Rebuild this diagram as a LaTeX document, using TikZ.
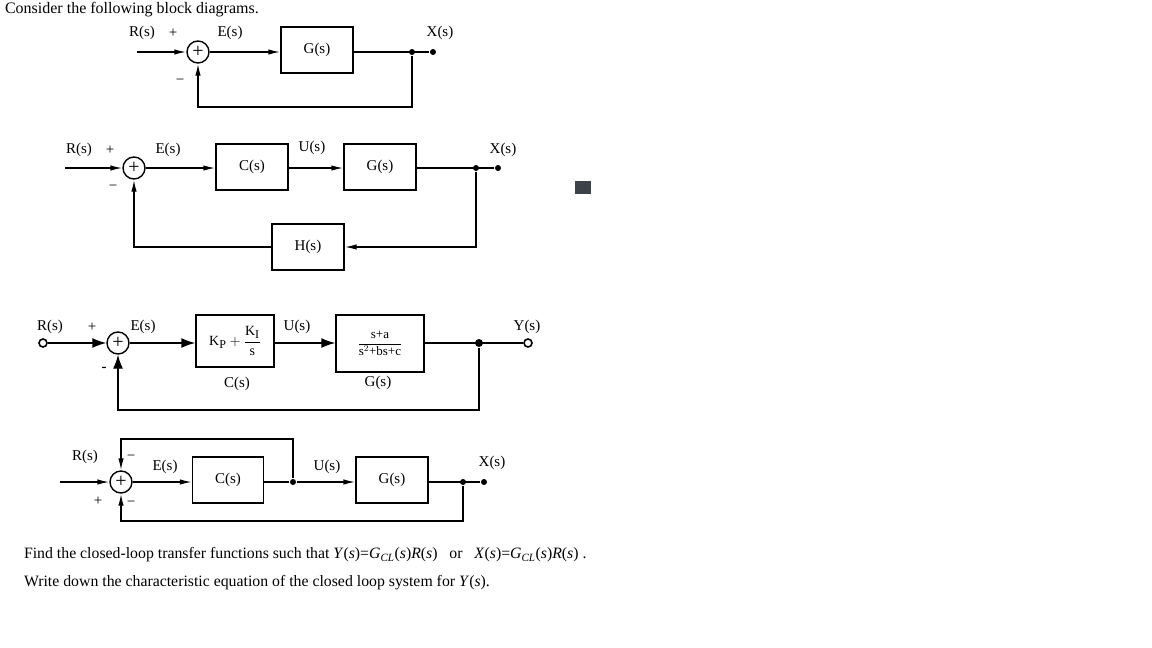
\documentclass[tikz,border=0pt]{standalone}
\usepackage{amsmath}
\usepackage{fontspec}
\setmainfont{Liberation Serif}
\usetikzlibrary{arrows.meta,positioning}
\definecolor{boxgray}{HTML}{3C4248}

\begin{document}
\begin{tikzpicture}[x=1pt,y=-1pt,line width=1.4pt,
        blk/.style={draw,minimum width=72pt,minimum height=46pt,font=\fontsize{15}{17}\selectfont},
        sumc/.style={draw,circle,inner sep=0pt,minimum size=22pt,font=\fontsize{20}{20}\selectfont},
        lbl/.style={font=\fontsize{15}{17}\selectfont},
        dot/.style={circle,fill,inner sep=0pt,minimum size=6pt},
        term/.style={circle,draw,fill=white,inner sep=0pt,minimum size=8pt,line width=1.6pt},
        sig/.style={-{Latex[length=12pt,width=5.5pt]}},
        bigsig/.style={-{Latex[length=14pt,width=10pt]}}]
    \useasboundingbox (0,0) rectangle (1152,648);
    \node[anchor=west,font=\fontsize{16}{18}\selectfont] (title) at (1,10) {Consider the following block diagrams.};

    % first loop
    \coordinate (r1) at (137,52);
    \node[sumc] (s1) at (198,52) {+};
    \node[blk] (g1) at (317,50) {G(s)};
    \node[dot] (j1) at (412,52) {};
    \node[dot] (x1) at (433,52) {};
    \draw[sig] (r1) -- (s1);
    \draw[sig] (s1) -- (g1.west |- s1);
    \draw (g1.east |- s1) -- (x1);
    \draw[sig] (j1) -- ++(0,55) -| (s1.south);
    \node[lbl] (lr1) at (142,33) {R(s)};
    \node[lbl] (lp1) at (173,33) {+};
    \node[lbl] (lm1) at (180,82) {−};
    \node[lbl] (le1) at (230,33) {E(s)};
    \node[lbl] (lx1) at (440,33) {X(s)};

    % second loop
    \coordinate (r2) at (65,168);
    \node[sumc] (s2) at (134,168) {+};
    \node[blk] (c2) at (252,167) {C(s)};
    \node[blk] (g2) at (380,167) {G(s)};
    \node[blk] (h2) at (308,247) {H(s)};
    \node[dot] (j2) at (476,168) {};
    \node[dot] (x2) at (498,168) {};
    \draw[sig] (r2) -- (s2);
    \draw[sig] (s2) -- (c2.west |- s2);
    \draw[sig] (c2.east |- s2) -- (g2.west |- s2);
    \draw (g2.east |- s2) -- (x2);
    \draw[sig] (j2) |- (h2.east);
    \draw[sig] (h2.west) -| (s2.south);
    \node[lbl] (lr2) at (79,150) {R(s)};
    \node[lbl] (lp2) at (110,150) {+};
    \node[lbl] (lm2) at (113,188) {−};
    \node[lbl] (le2) at (168,150) {E(s)};
    \node[lbl] (lu2) at (312,148) {U(s)};
    \node[lbl] (lx2) at (503,150) {X(s)};

    % PI loop
    \node[term] (r3) at (43,343) {};
    \node[sumc] (s3) at (118,343) {+};
    \node[blk,minimum width=78pt,minimum height=52pt,font=\fontsize{14}{16}\selectfont] (c3) at (235,341)
        {$\text{K}_{\text{\large P}}+\dfrac{\text{K}_{\text{\large I}}}{\text{s}}$};
    \node[blk,minimum width=88pt,minimum height=57pt,font=\fontsize{13}{15}\selectfont] (g3) at (380,343.5)
        {$\dfrac{\text{s+a}}{\text{s}^2\text{+bs+c}}$};
    \node[dot,minimum size=8pt] (j3) at (479,343) {};
    \node[term] (y3) at (528,343) {};
    \draw[bigsig] (r3) -- (s3);
    \draw[bigsig] (s3) -- (c3.west |- s3);
    \draw[bigsig] (c3.east |- s3) -- (g3.west |- s3);
    \draw (g3.east |- s3) -- (y3);
    \draw[bigsig] (j3) -- ++(0,67) -| (s3.south);
    \node[lbl] (lr3) at (50,327) {R(s)};
    \node[lbl] (lp3) at (92,327) {+};
    \node[lbl] (lm3) at (104,369) {\textbf{-}};
    \node[lbl] (le3) at (143,327) {E(s)};
    \node[lbl] (lu3) at (297,327) {U(s)};
    \node[lbl] (ly3) at (527,327) {Y(s)};
    \node[lbl] (lc3) at (237,384) {C(s)};
    \node[lbl] (lg3) at (378,383) {G(s)};

    % two feedback paths
    \coordinate (r4) at (60,482);
    \node[sumc] (s4) at (121,482) {+};
    \node[blk,minimum width=71pt] (c4) at (228,480) {C(s)};
    \node[blk] (g4) at (392,480) {G(s)};
    \node[dot] (j4) at (293,482) {};
    \node[dot] (k4) at (463,482) {};
    \node[dot] (x4) at (484,482) {};
    \draw[sig] (r4) -- (s4);
    \draw[sig] (s4) -- (c4.west |- s4);
    \draw (c4.east |- s4) -- (j4);
    \draw[sig] (j4) -- (g4.west |- s4);
    \draw (g4.east |- s4) -- (x4);
    \draw[sig] (j4) -- ++(0,-43) -| (s4.north);
    \draw[sig] (k4) -- ++(0,39) -| (s4.south);
    \node[lbl] (lr4) at (85,457) {R(s)};
    \node[lbl] (lp4) at (98,501) {+};
    \node[lbl] (lm4) at (131,458) {−};
    \node[lbl] (ln4) at (131,504) {−};
    \node[lbl] (le4) at (165,467) {E(s)};
    \node[lbl] (lu4) at (327,467) {U(s)};
    \node[lbl] (lx4) at (492,463) {X(s)};

    \node[anchor=west,font=\fontsize{15.8}{18}\selectfont] (q1) at (20,555)
        {Find the closed-loop transfer functions such that \textit{Y}(\textit{s})=\textit{G}\textsubscript{\textit{CL}}(\textit{s})\textit{R}(\textit{s})\ \ \ or\ \ \ \textit{X}(\textit{s})=\textit{G}\textsubscript{\textit{CL}}(\textit{s})\textit{R}(\textit{s})\ .};
    \node[anchor=west,font=\fontsize{15.8}{18}\selectfont] (q2) at (20,583)
        {Write down the characteristic equation of the closed loop system for \textit{Y}(\textit{s}).};
    \fill[boxgray] (575,181) rectangle (591,194);
\end{tikzpicture}
\end{document}
